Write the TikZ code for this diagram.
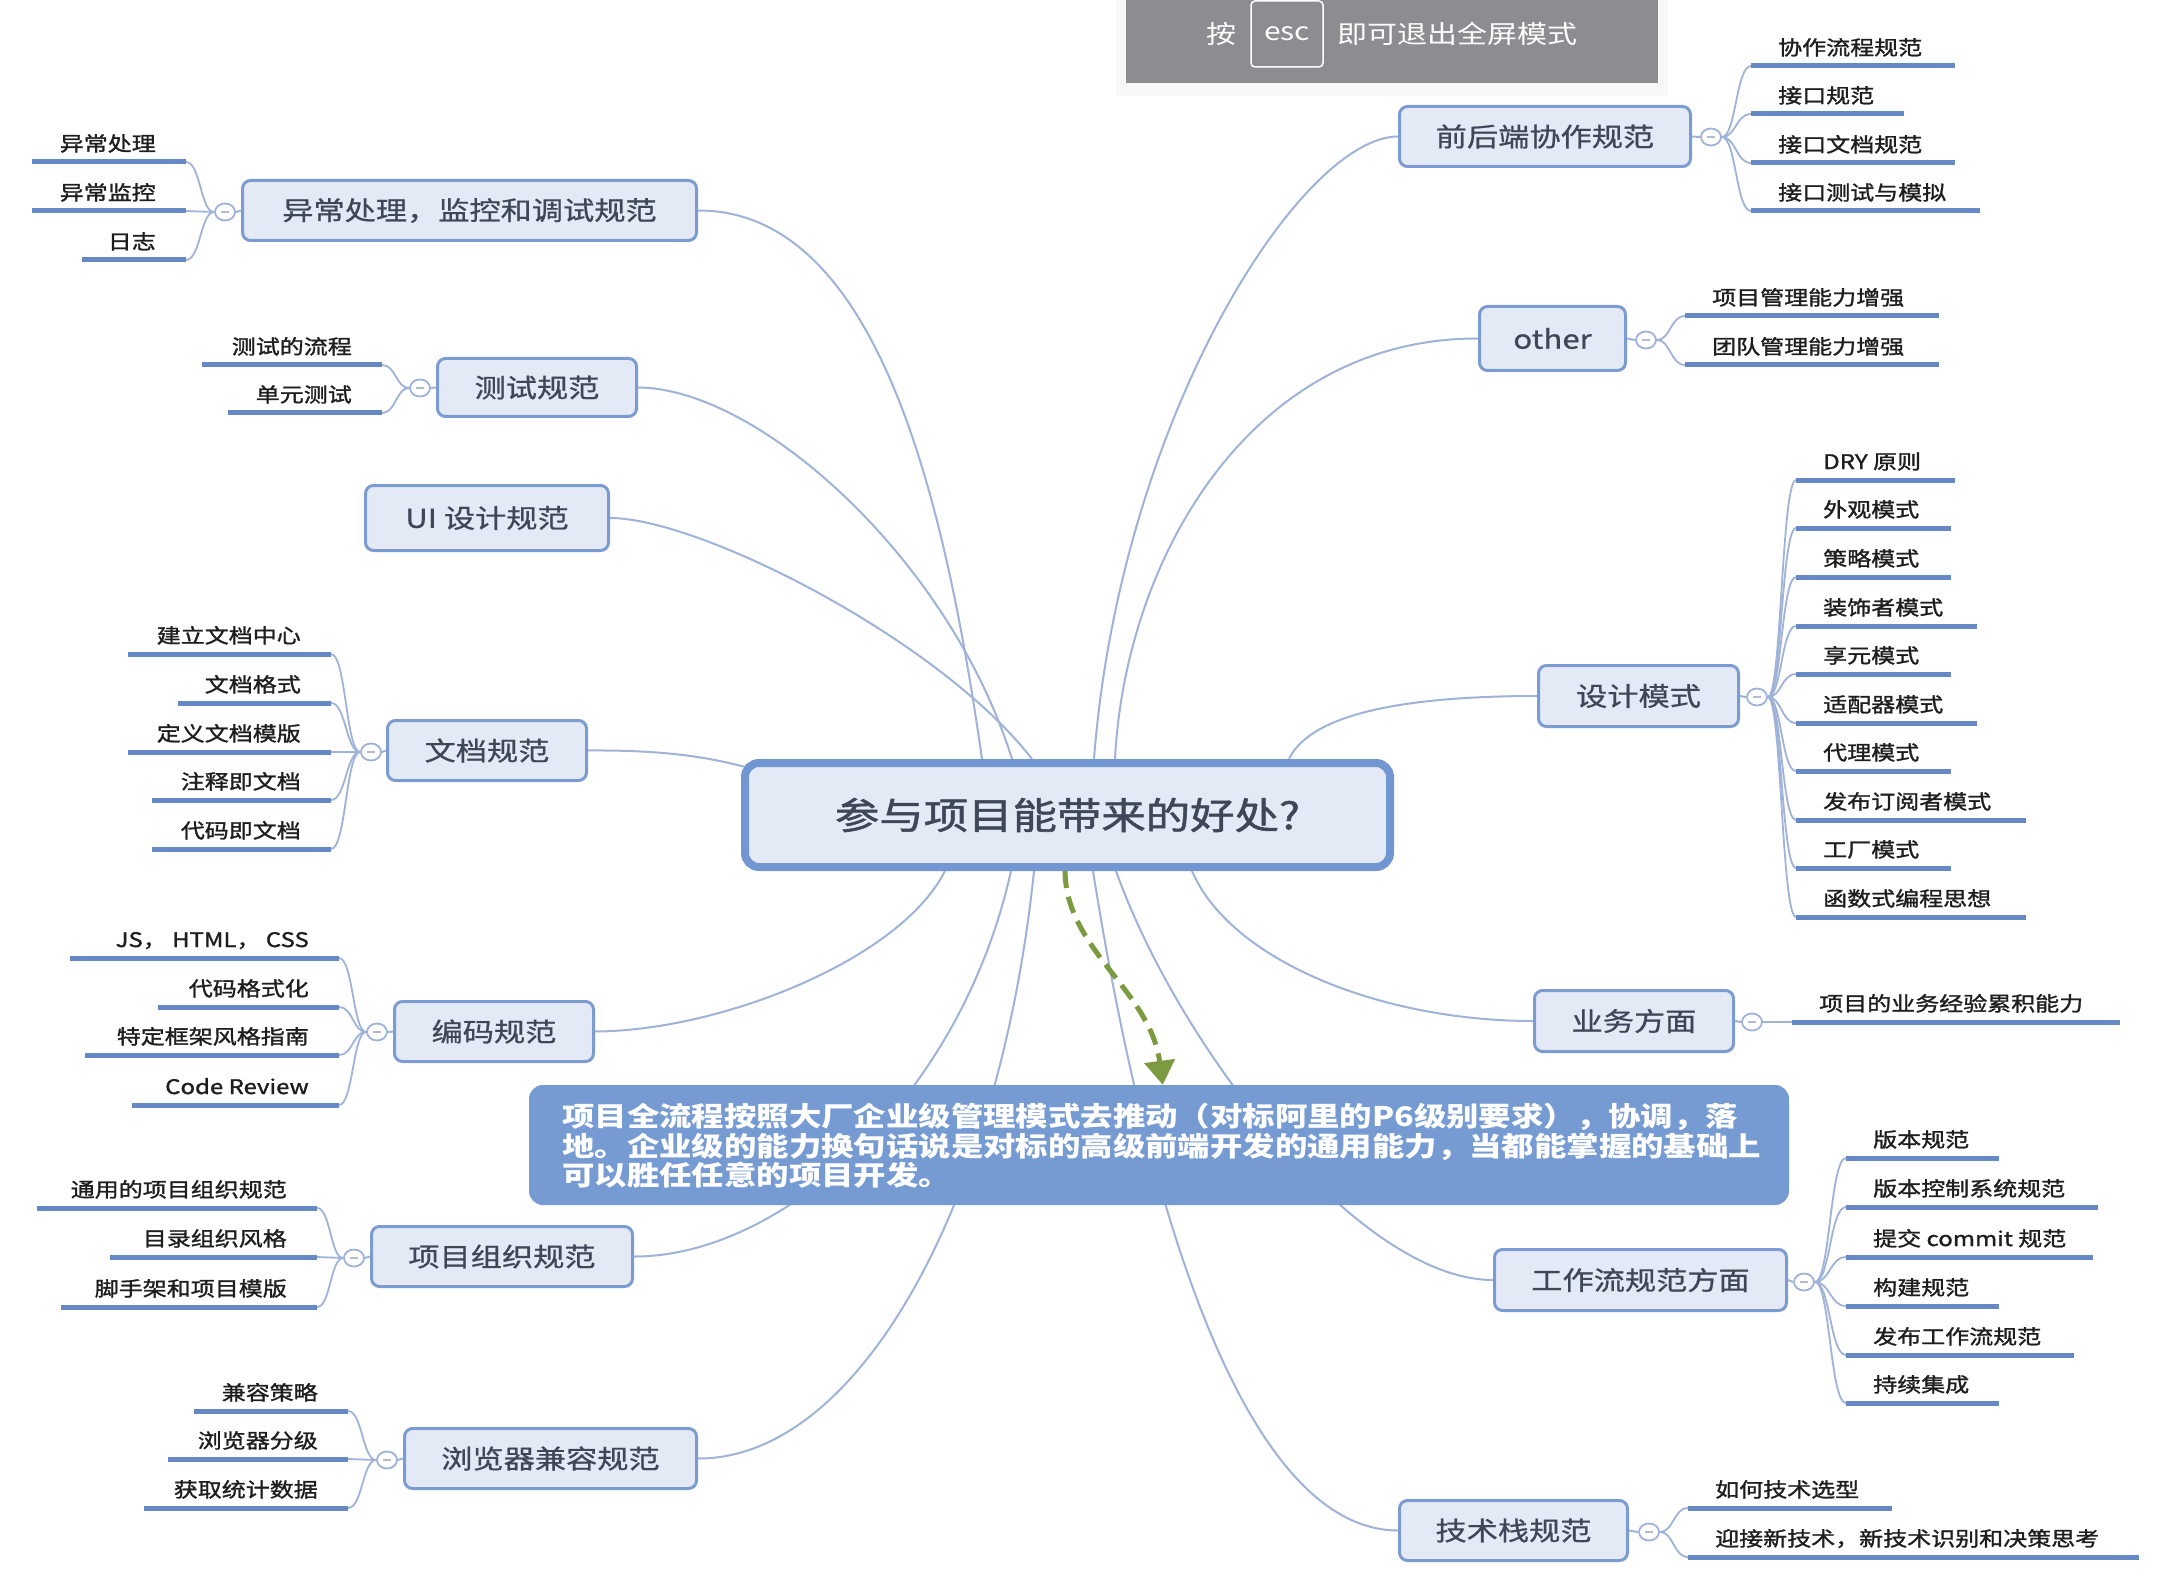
\documentclass[tikz,border=0pt]{standalone}
\usepackage{fontspec}
\usetikzlibrary{shapes.geometric,arrows.meta,calc}
\newfontfamily\cjk{Noto Sans CJK SC}[FakeStretch=1.2]
\newfontfamily\cjkmid{Noto Sans CJK SC}[FakeStretch=1.2, FakeBold=0.8]
\newfontfamily\cjkleaf{Noto Sans CJK SC}[FakeStretch=1.2, FakeBold=1.4]
\definecolor{boxfill}{HTML}{E4EAF5}
\definecolor{boxline}{HTML}{7C9BD0}
\definecolor{ctrline}{HTML}{7196D1}
\definecolor{txt}{HTML}{3E4758}
\definecolor{conc}{HTML}{9FB3D8}
\definecolor{ulc}{HTML}{6688C4}
\definecolor{notefill}{HTML}{769BD2}
\definecolor{bannerc}{HTML}{8D8D91}
\definecolor{arrowc}{HTML}{7C9A3F}
\definecolor{leaftxt}{HTML}{1E1E1E}
\definecolor{minusc}{HTML}{B4BCCB}
\pgfdeclarelayer{back}
\pgfdeclarelayer{bg}
\pgfsetlayers{back,bg,main}
\newcommand\leftleaves[5]{%
  \foreach \py/\px/\lbl [count=\cnt] in {#5}{%
    \draw[twig] (#1.west) .. controls (#4,#2) and (#4,\py) .. (#3,\py);
    \draw[uline] (\px,\py) -- (#3,\py);
    \node[leaf,anchor=base east] (#1t\cnt) at (#3-30,\py-11) {\lbl};
  }}
\newcommand\rightleaves[5]{%
  \foreach \py/\px/\lbl [count=\cnt] in {#5}{%
    \draw[twig] (#1.east) .. controls (#4,#2) and (#4,\py) .. (#3,\py);
    \draw[uline] (#3,\py) -- (\px,\py);
    \node[leaf,anchor=base west] (#1t\cnt) at (#3+27,\py-11) {\lbl};
  }}
\begin{document}
\begin{tikzpicture}[x=1pt,y=-1pt,
  topic/.style={draw=boxline, line width=3pt, fill=boxfill, rounded corners=8pt,
    text=txt, font=\cjkmid\fontsize{26}{30}\selectfont, inner sep=0pt},
  hub/.style={draw=ctrline, line width=8pt, fill=boxfill, rounded corners=14pt,
    text=txt, font=\cjkleaf\fontsize{37}{44}\selectfont, inner sep=0pt,
    minimum width=645pt, minimum height=104pt},
  leaf/.style={text=leaftxt, font=\cjkleaf\fontsize{20}{24}\selectfont, inner sep=0pt},
  uline/.style={line width=5pt, draw=ulc},
  conn/.style={line width=2pt, draw=conc},
  twig/.style={line width=1.8pt, draw=conc},
  knob/.style={ellipse, draw=conc, line width=1.8pt, fill=white,
    minimum width=20pt, minimum height=17pt, inner sep=0pt},
  minusmark/.style={line width=1.5pt, draw=minusc}
]
\begin{pgfonlayer}{back}
  \fill[white] (0,0) rectangle (2164,1586);
\end{pgfonlayer}
\useasboundingbox (0,0) rectangle (2164,1586);

% ---------- central node and note ----------
\node[hub] (center) at (1067.5,815) {参与项目能带来的好处?};
\node[fill=notefill, rounded corners=14pt, minimum width=1260pt, minimum height=120pt, inner sep=0pt] (note) at (1159,1145) {};
\node[anchor=north west, align=left, text=white, inner sep=0pt,
  font={\cjk\bfseries\fontsize{27}{29.5}\selectfont\lineskiplimit=-100pt}] (notetext) at (562,1103)
  {项目全流程按照大厂企业级管理模式去推动（对标阿里的P6级别要求），协调，落\\
   地。企业级的能力换句话说是对标的高级前端开发的通用能力，当都能掌握的基础上\\
   可以胜任任意的项目开发。};

% ---------- topic boxes ----------
\node[topic, minimum width=454pt, minimum height=60pt] (ex) at (469.5,210.5) {异常处理，监控和调试规范};
\node[topic, minimum width=199pt, minimum height=58pt] (test) at (537,387.5) {测试规范};
\node[topic, minimum width=243pt, minimum height=65pt] (ui) at (487,518) {UI 设计规范};
\node[topic, minimum width=199pt, minimum height=60pt] (doc) at (487,750.5) {文档规范};
\node[topic, minimum width=199pt, minimum height=60pt] (code) at (494,1031.5) {编码规范};
\node[topic, minimum width=261pt, minimum height=60pt] (proj) at (502,1256.5) {项目组织规范};
\node[topic, minimum width=292pt, minimum height=60pt] (brw) at (550.5,1458.5) {浏览器兼容规范};
\node[topic, minimum width=291pt, minimum height=60pt] (fe) at (1545,136.5) {前后端协作规范};
\node[topic, minimum width=146pt, minimum height=64pt] (other) at (1552.5,338.5) {other};
\node[topic, minimum width=200pt, minimum height=61pt] (dp) at (1638.5,696) {设计模式};
\node[topic, minimum width=199pt, minimum height=61pt] (biz) at (1634,1021) {业务方面};
\node[topic, minimum width=292pt, minimum height=61pt] (wf) at (1640.5,1280) {工作流规范方面};
\node[topic, minimum width=228pt, minimum height=60pt] (tech) at (1513.5,1530.5) {技术栈规范};

% ---------- main connectors ----------
\begin{pgfonlayer}{bg}
  \draw[conn] (ex.east) .. controls (878,210) and (945,500) .. ($(center.north west)+(241,0)$);
  \draw[conn] (test.east) .. controls (759,388) and (950,560) .. ($(center.north west)+(271,0)$);
  \draw[conn] (ui.east) .. controls (700,518) and (940,640) .. ($(center.north west)+(291,0)$);
  \draw[conn] (doc.east) .. controls (660,750) and (705,756) .. ($(center.north west)+(8,9)$);
  \draw[conn] ($(center.north west)+(353,0)$) .. controls (1120,420) and (1300,137) .. (fe.west);
  \draw[conn] ($(center.north west)+(374,0)$) .. controls (1125,560) and (1250,338) .. (other.west);
  \draw[conn] ($(center.north west)+(548,0)$) .. controls (1310,715) and (1400,696) .. (dp.west);
  \draw[conn] ($(center.south west)+(204,0)$) .. controls (900,960) and (720,1031) .. (code.east);
  \draw[conn] ($(center.south west)+(270,0)$) .. controls (960,1100) and (780,1257) .. (proj.east);
  \draw[conn] ($(center.south west)+(293,0)$) .. controls (1000,1200) and (860,1459) .. (brw.east);
  \draw[conn] ($(center.south west)+(352,0)$) .. controls (1150,1230) and (1250,1530) .. (tech.west);
  \draw[conn] ($(center.south west)+(375,0)$) .. controls (1180,1050) and (1360,1280) .. (wf.west);
  \draw[conn] ($(center.south west)+(451,0)$) .. controls (1230,960) and (1380,1021) .. (biz.west);
\end{pgfonlayer}

% ---------- dashed green arrow ----------
\draw[dash pattern=on 17pt off 9pt, line width=5pt, draw=arrowc,
  -{Triangle[width=30pt,length=24pt,fill=arrowc]}]
  ($(center.south west)+(324,0)$) .. controls (1066,950) and (1150,990) .. ($(note.north west)+(634,0)$);

% ---------- knobs ----------
\foreach \nm/\kx/\ky/\bx in {exk/225/212/ex, testk/420/388/test, dock/371/752/doc, codek/377/1032/code, projk/354/1258/proj, brwk/387/1460/brw}{
  \node[knob] (\nm) at (\kx,\ky) {};
  \draw[conn] (\nm.east) -- (\bx.west);
  \draw[minusmark] ($(\nm.center)+(-4,0)$) -- ($(\nm.center)+(4,0)$);
}
\foreach \nm/\kx/\ky/\bx in {fek/1711/137/fe, otherk/1646/340/other, dpk/1757/697/dp, bizk/1752/1022/biz, wfk/1804/1282/wf, techk/1649/1532/tech}{
  \node[knob] (\nm) at (\kx,\ky) {};
  \draw[conn] (\bx.east) -- (\nm.west);
  \draw[minusmark] ($(\nm.center)+(-4,0)$) -- ($(\nm.center)+(4,0)$);
}

% ---------- leaves ----------
\leftleaves{exk}{212}{186}{200.5}{162/32/异常处理, 211/32/异常监控, 260/82/日志}
\leftleaves{testk}{388}{382}{396}{365/202/测试的流程, 413/228/单元测试}
\leftleaves{dock}{752}{331}{346}{654/128/建立文档中心, 703/178/文档格式, 752/128/定义文档模版, 800/152/注释即文档, 849/152/代码即文档}
\leftleaves{codek}{1032}{339}{353}{958/70/JS，\ HTML，\ CSS, 1007/158/代码格式化, 1055/85/特定框架风格指南, 1105/132/Code Review}
\leftleaves{projk}{1258}{317}{330.5}{1208/37/通用的项目组织规范, 1257/110/目录组织风格, 1307/61/脚手架和项目模版}
\leftleaves{brwk}{1460}{348}{362.5}{1411/194/兼容策略, 1459/168/浏览器分级, 1508/144/获取统计数据}

\rightleaves{fek}{137}{1751}{1736}{66/1955/协作流程规范, 114/1904/接口规范, 163/1955/接口文档规范, 211/1980/接口测试与模拟}
\rightleaves{otherk}{340}{1685}{1670.5}{316/1939/项目管理能力增强, 365/1939/团队管理能力增强}
\rightleaves{dpk}{697}{1796}{1781.5}{480/1955/DRY 原则, 528/1951/外观模式, 577/1951/策略模式, 626/1977/装饰者模式, 674/1951/享元模式, 723/1977/适配器模式, 771/1951/代理模式, 820/2026/发布订阅者模式, 868/1951/工厂模式, 917/2026/函数式编程思想}
\rightleaves{bizk}{1022}{1792}{1777}{1022/2120/项目的业务经验累积能力}
\rightleaves{wfk}{1282}{1846}{1830}{1158/1999/版本规范, 1207/2098/版本控制系统规范, 1257/2093/提交 commit 规范, 1306/1999/构建规范, 1355/2074/发布工作流规范, 1403/1999/持续集成}
\rightleaves{techk}{1532}{1688}{1673.5}{1508/1892/如何技术选型, 1557/2139/迎接新技术，新技术识别和决策思考}

% ---------- fullscreen banner ----------
\begin{pgfonlayer}{bg}
  \fill[black!6] (1122,0) rectangle (1662,90);
  \fill[black!3] (1116,0) rectangle (1668,96);
\end{pgfonlayer}
\node[fill=bannerc, minimum width=532pt, minimum height=83pt, inner sep=0pt] (banner) at (1392,41.5) {};
\node[text=white, inner sep=0pt, font=\cjk\fontsize{25}{30}\selectfont] (press) at (1221,34) {按};
\node[draw=white, rounded corners=4pt, line width=1.5pt, minimum width=72pt, minimum height=66pt,
  inner sep=0pt, text=white, font=\cjk\fontsize{25}{30}\selectfont] (esckey) at (1287,34) {esc};
\node[text=white, anchor=west, inner sep=0pt, font=\cjk\fontsize{25}{30}\selectfont] (exittext) at (1337,34) {即可退出全屏模式};
\end{tikzpicture}
\end{document}
